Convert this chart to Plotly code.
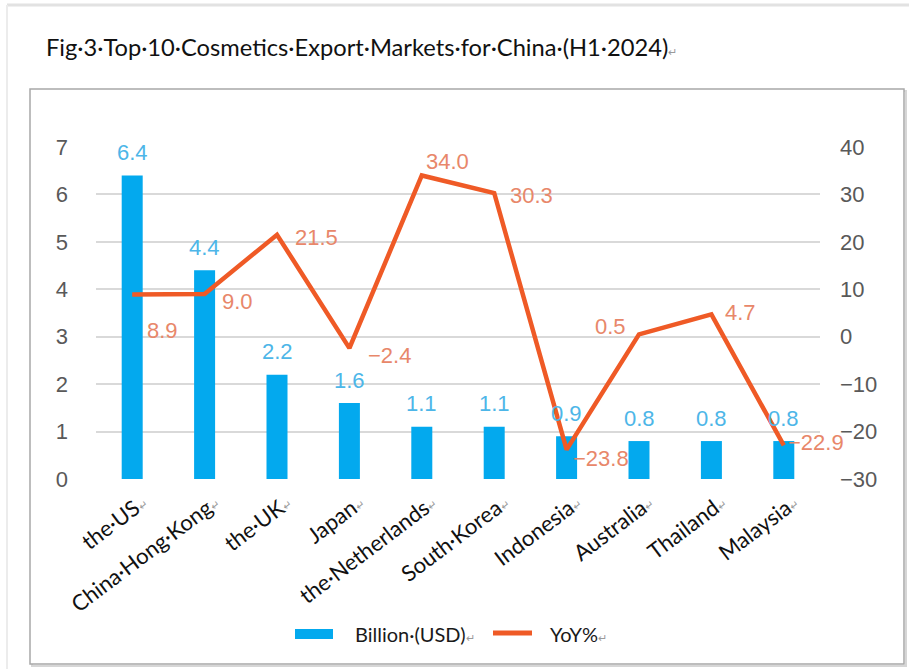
import plotly.graph_objects as go

# Top 10 cosmetics export markets for China, H1 2024
categories = ["the US", "China Hong Kong", "the UK", "Japan", "the Netherlands",
              "South Korea", "Indonesia", "Australia", "Thailand", "Malaysia"]
export_billion_usd = [6.4, 4.4, 2.2, 1.6, 1.1, 1.1, 0.9, 0.8, 0.8, 0.8]
yoy_percent = [8.9, 9.0, 21.5, -2.4, 34.0, 30.3, -23.8, 0.5, 4.7, -22.9]
left_ticks = [0, 1, 2, 3, 4, 5, 6, 7]
right_ticks = [-30, -20, -10, 0, 10, 20, 30, 40]

W, H = 909, 669
ML, MR, MT, MB = 96, 89, 147, 190
BAR_COLOR = "#03A9EE"
LINE_COLOR = "#EF5A26"
BAR_LABEL_COLOR = "#4DB6E8"
LINE_LABEL_COLOR = "#E8876A"
CALIBRI_LIKE = "Lato, 'Open Sans', sans-serif"
NUM_FONT = "'Liberation Sans', Arial, sans-serif"
RET = '<span style="font-size:11px;color:#9a9a9a">↵</span>'


def px(x):
    # pixel column -> paper x (paper spans the plot area)
    return (x - ML) / (W - ML - MR)


def py(y):
    # pixel row -> paper y
    return (H - MB - y) / (H - MT - MB)


def fmt(v):
    s = f"{abs(v):.1f}"
    return ("\u2212" + s) if v < 0 else s


tick_text = [c.replace(" ", "·") + RET for c in categories]

fig = go.Figure()
fig.add_trace(go.Bar(
    x=categories, y=export_billion_usd, name="Billion (USD)",
    marker=dict(color=BAR_COLOR, line=dict(width=0)),
    width=0.29, yaxis="y", showlegend=False,
))
fig.add_trace(go.Scatter(
    x=categories, y=yoy_percent, name="YoY%", mode="lines",
    line=dict(color=LINE_COLOR, width=4.5), yaxis="y2", showlegend=False,
))

annotations = []
# value labels above the bars
for c, v in zip(categories, export_billion_usd):
    annotations.append(dict(
        x=c, y=v, xref="x", yref="y", text=f"{v:.1f}", showarrow=False,
        xanchor="center", yanchor="middle", yshift=23,
        font=dict(family=NUM_FONT, size=22, color=BAR_LABEL_COLOR),
    ))

# growth labels beside the line points: (xanchor, xshift, yshift)
line_label_offsets = [
    ("left", 13, -36), ("left", 15, -7), ("left", 16, -3), ("left", 17, -7),
    ("left", 2, 14), ("left", 14, -2), ("left", 4, -9), ("right", -11, 8),
    ("left", 12, 2), ("left", 2, 3),
]
for c, v, (anc, dx, dy) in zip(categories, yoy_percent, line_label_offsets):
    annotations.append(dict(
        x=c, y=v, xref="x", yref="y2", text=fmt(v), showarrow=False,
        xanchor=anc, yanchor="middle", xshift=dx, yshift=dy,
        font=dict(family=NUM_FONT, size=22, color=LINE_LABEL_COLOR),
    ))

# document caption
annotations.append(dict(
    x=px(44), y=py(47), xref="paper", yref="paper", xanchor="left", yanchor="middle",
    text="Fig·3·Top·10·Cosmetics·Export·Markets·for·China·(H1·2024)" + RET,
    showarrow=False, font=dict(family=CALIBRI_LIKE, size=23.7, color="#111111"),
))

# legend
annotations.append(dict(
    x=px(353), y=py(634), xref="paper", yref="paper", xanchor="left", yanchor="middle",
    text="Billion·(USD)" + RET, showarrow=False,
    font=dict(family=CALIBRI_LIKE, size=20, color="#1a1a1a"),
))
annotations.append(dict(
    x=px(548), y=py(634), xref="paper", yref="paper", xanchor="left", yanchor="middle",
    text="YoY%" + RET, showarrow=False,
    font=dict(family=CALIBRI_LIKE, size=20, color="#1a1a1a"),
))

shapes = [
    # page edges
    dict(type="line", xref="paper", yref="paper", x0=px(7), x1=px(W), y0=py(5), y1=py(5),
         line=dict(color="#e2e2e2", width=3)),
    dict(type="line", xref="paper", yref="paper", x0=px(7), x1=px(7), y0=py(5), y1=py(H),
         line=dict(color="#ececec", width=2)),
    # chart frame with soft shadow
    dict(type="rect", xref="paper", yref="paper", x0=px(32), x1=px(906), y0=py(91), y1=py(666),
         line=dict(color="#d6d6d6", width=2), layer="below"),
    dict(type="rect", xref="paper", yref="paper", x0=px(30), x1=px(904), y0=py(89), y1=py(664),
         line=dict(color="#a8a8a8", width=1.5), fillcolor="white", layer="below"),
    # legend keys
    dict(type="rect", xref="paper", yref="paper", x0=px(295), x1=px(333), y0=py(639), y1=py(629),
         line=dict(width=0), fillcolor=BAR_COLOR),
    dict(type="line", xref="paper", yref="paper", x0=px(493), x1=px(532), y0=py(633), y1=py(633),
         line=dict(color=LINE_COLOR, width=5)),
]

fig.update_layout(
    width=W, height=H,
    margin=dict(l=ML, r=MR, t=MT, b=MB, autoexpand=False),
    paper_bgcolor="white", plot_bgcolor="rgba(0,0,0,0)",
    xaxis=dict(
        tickmode="array", tickvals=categories, ticktext=tick_text, tickangle=-37,
        tickfont=dict(family=CALIBRI_LIKE, size=22, color="#111111"),
        showgrid=False, showline=False, zeroline=False, ticks="", automargin=False,
        range=[-0.5, 9.5], ticklabelshift=10, ticklabelstandoff=6,
    ),
    yaxis=dict(
        range=[0, 7], tickmode="array", tickvals=left_ticks,
        tickfont=dict(family=NUM_FONT, size=22, color="#595959"),
        showgrid=True, gridcolor="#d9d9d9", gridwidth=1.5, zeroline=False,
        showline=False, ticks="", ticklabelstandoff=27, automargin=False,
    ),
    yaxis2=dict(
        range=[-30, 40], tickmode="array", tickvals=right_ticks, overlaying="y", side="right",
        tickfont=dict(family=NUM_FONT, size=22, color="#595959"),
        showgrid=False, zeroline=False, showline=False, ticks="",
        ticklabelstandoff=19, automargin=False,
    ),
    annotations=annotations,
    shapes=shapes,
    showlegend=False,
)

fig.write_html("out.html")
